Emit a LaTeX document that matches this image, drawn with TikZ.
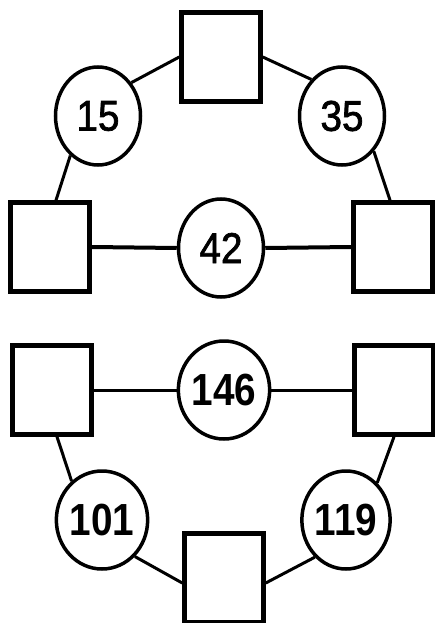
\documentclass[tikz,border=0pt]{standalone}
\usepackage{fontspec}
\setmainfont{Liberation Sans}
\newfontfamily\narrowbold[FakeStretch=0.86]{Liberation Sans Bold}
\newfontfamily\narrowmed[FakeStretch=0.9,FakeBold=1.6]{Liberation Sans}
\usetikzlibrary{shapes.geometric}
\begin{document}
\begin{tikzpicture}[x=1pt,y=-1pt,
  sq/.style={draw=black,line width=4.5pt,minimum width=79pt,minimum height=89pt,inner sep=0pt,fill=white},
  ov/.style={draw=black,line width=3.5pt,ellipse,minimum width=85pt,minimum height=98pt,inner sep=0pt,fill=white},
  lbl/.style={font=\narrowmed\fontsize{43}{43}\selectfont},
  lblb/.style={font=\narrowbold\fontsize{45}{45}\selectfont},
  con/.style={draw=black,line width=3pt},
  conh/.style={draw=black,line width=4pt}]
\useasboundingbox (0,0) rectangle (435,623);
% top group
\node[sq] (t1) at (221,57) {};
\node[sq] (t2) at (50,247) {};
\node[sq] (t3) at (393,247) {};
\node[ov,lbl] (c15) at (98,116) {15};
\node[ov,lbl] (c35) at (342,116) {35};
\node[ov,lbl] (c42) at (221,248) {42};
% bottom group
\node[sq] (b1) at (52,390) {};
\node[sq] (b2) at (394,390) {};
\node[sq] (b3) at (224,578) {};
\node[ov,lblb] (c146) at (224,390) {146};
\node[ov,lblb] (c101) at (102,520) {101};
\node[ov,lblb] (c119) at (346,520) {119};
% connectors
\draw[con] (t1.west) -- (c15.45);
\draw[con] (c15.-125) -- ([xshift=6pt]t2.north);
\draw[con] (t1.east) -- (c35.130);
\draw[con] (c35.-48) -- ([xshift=-3pt]t3.north);
\draw[conh] (t2.east) -- (c42.west);
\draw[conh] (c42.east) -- (t3.west);
\draw[con] (b1.east) -- (c146.west);
\draw[con] (c146.east) -- (b2.west);
\draw[con] ([xshift=5pt]b1.south) -- (c101.128);
\draw[con] (c101.-48) -- ([yshift=-5pt]b3.west);
\draw[con] (b2.south) -- (c119.50);
\draw[con] (c119.-130) -- ([yshift=-5pt]b3.east);
\end{tikzpicture}
\end{document}
